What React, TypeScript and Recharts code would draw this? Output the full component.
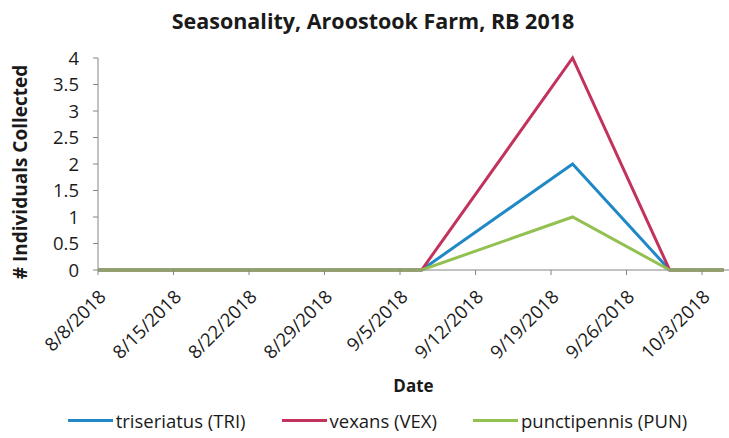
import { LineChart, Line, XAxis, YAxis, Legend } from "recharts";

// sampling dates and counts per species
const sampleDates = ["8/8/2018", "8/17/2018", "8/24/2018", "8/31/2018", "9/7/2018", "9/21/2018", "9/30/2018", "10/5/2018"];
const triseriatus = [0, 0, 0, 0, 0, 2, 0, 0];
const vexans = [0, 0, 0, 0, 0, 4, 0, 0];
const punctipennis = [0, 0, 0, 0, 0, 1, 0, 0];

const tickDates = ["8/8/2018", "8/15/2018", "8/22/2018", "8/29/2018", "9/5/2018", "9/12/2018", "9/19/2018", "9/26/2018", "10/3/2018"];
const yTicks = [0, 0.5, 1, 1.5, 2, 2.5, 3, 3.5, 4];

const FONT = "'Open Sans', 'Liberation Sans', sans-serif";
const BLUE = "#2188c6";
const RED = "#c2325c";
const GREEN = "#92c151";
const AXIS = "#868686";

const toDay = (s: string) => {
  const [m, d, y] = s.split("/").map(Number);
  return new Date(y, m - 1, d).getTime() / 86400000;
};
const day0 = toDay(tickDates[0]);
const dayOf = (s: string) => Math.round(toDay(s) - day0);

const data = sampleDates.map((d, i) => ({
  t: dayOf(d),
  tri: triseriatus[i],
  vex: vexans[i],
  pun: punctipennis[i],
}));
const xTicks = tickDates.map(dayOf);
const labelFor = (t: number) => tickDates[xTicks.indexOf(t)] ?? "";

const DateTick = (props: any) => {
  const { x, y, payload } = props;
  const ax = x + 9;
  const ay = y + 21;
  return (
    <text x={ax} y={ay} transform={`rotate(-45 ${ax} ${ay})`} textAnchor="end" fontSize={18.5} fill="#1a1a1a" fontFamily={FONT}>
      {labelFor(payload.value)}
    </text>
  );
};

const YLabel = () => (
  <text x={27} y={172} transform="rotate(-90 27 172)" textAnchor="middle" fontSize={19} fontWeight="bold" fill="#1a1a1a" fontFamily={FONT}>
    # Individuals Collected
  </text>
);

const legendItems = [
  { label: "triseriatus (TRI)", color: BLUE },
  { label: "vexans (VEX)", color: RED },
  { label: "punctipennis (PUN)", color: GREEN },
];

const LegendContent = () => (
  <div style={{ display: "flex", justifyContent: "center", alignItems: "center", gap: 36, height: 36, paddingLeft: 26 }}>
    {legendItems.map((it) => (
      <div key={it.label} style={{ display: "flex", alignItems: "center" }}>
        <div style={{ width: 45, height: 3, background: it.color, marginRight: 3 }} />
        <span style={{ fontSize: 18.5, color: "#1a1a1a", fontFamily: FONT }}>{it.label}</span>
      </div>
    ))}
  </div>
);

export default function App() {
  return (
    <div style={{ position: "absolute", left: 0, top: 0, width: 729, height: 438, background: "#fff" }}>
      <div style={{ position: "absolute", top: 6, left: 0, width: 746, textAlign: "center", fontFamily: FONT, fontWeight: "bold", fontSize: 21.5, color: "#1a1a1a" }}>
        Seasonality, Aroostook Farm, RB 2018
      </div>
      <LineChart width={729} height={438} data={data} margin={{ top: 58, right: 0, bottom: 0, left: 0 }}>
        <XAxis
          dataKey="t"
          type="number"
          domain={[0, 58.5]}
          ticks={xTicks}
          interval={0}
          tick={<DateTick />}
          stroke={AXIS}
          tickSize={5}
          height={132}
          label={{ value: "Date", position: "insideBottom", offset: 10, fontSize: 17, fontWeight: "bold", fill: "#1a1a1a", fontFamily: FONT }}
        />
        <YAxis
          domain={[0, 4]}
          ticks={yTicks}
          interval={0}
          width={98}
          stroke={AXIS}
          tickSize={5}
          tickMargin={14}
          tick={{ fontSize: 18.5, fill: "#1a1a1a", fontFamily: FONT }}
          label={<YLabel />}
        />
        <Legend verticalAlign="bottom" height={36} content={<LegendContent />} />
        <Line dataKey="tri" stroke={BLUE} strokeWidth={3} dot={false} isAnimationActive={false} />
        <Line dataKey="vex" stroke={RED} strokeWidth={3} dot={false} isAnimationActive={false} />
        <Line dataKey="pun" stroke={GREEN} strokeWidth={3} dot={false} isAnimationActive={false} />
      </LineChart>
    </div>
  );
}
